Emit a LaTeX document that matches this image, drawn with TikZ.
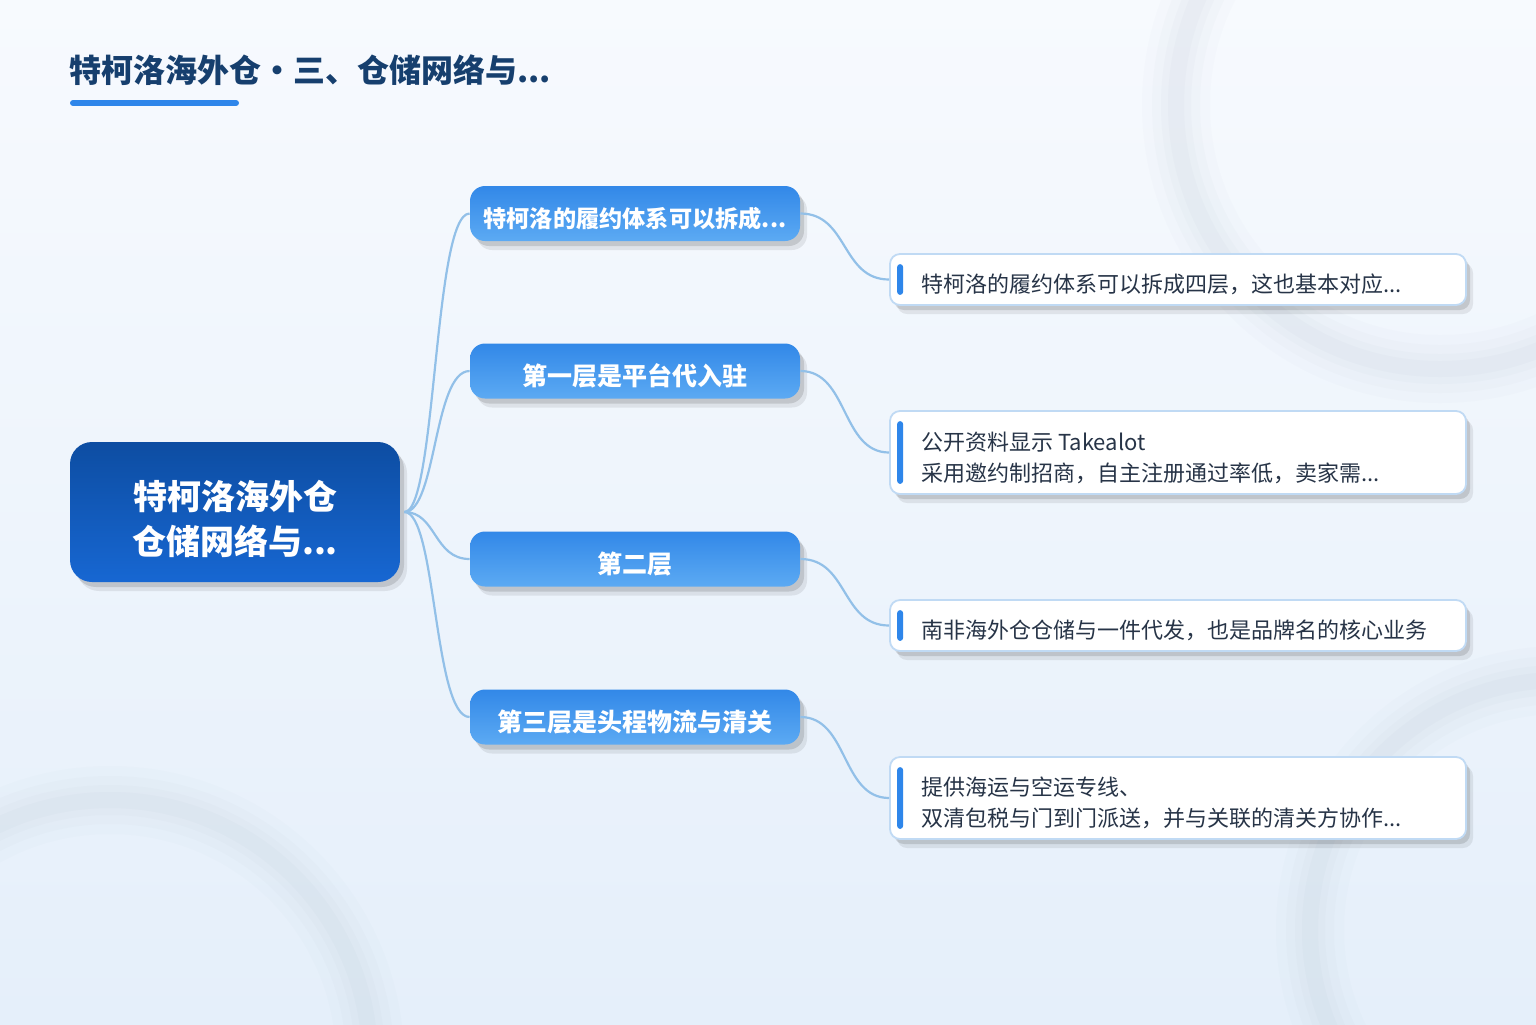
\documentclass[tikz,border=0pt]{standalone}
\usepackage{fontspec}
\setmainfont{Noto Sans CJK SC}
\usetikzlibrary{shadows,calc}
\definecolor{bgTop}{HTML}{F7FAFE}
\definecolor{bgBot}{HTML}{E5EFFA}
\definecolor{ringC}{HTML}{8F9DB0}
\definecolor{titleC}{HTML}{163F6E}
\definecolor{titleBar}{HTML}{2E86EA}
\definecolor{rootTop}{HTML}{0D4DA2}
\definecolor{rootBot}{HTML}{1767D2}
\definecolor{brTop}{HTML}{3288E8}
\definecolor{brBot}{HTML}{5CAAF3}
\definecolor{connC}{HTML}{92C0E8}
\definecolor{leafBorder}{HTML}{C0DAF4}
\definecolor{leafText}{HTML}{273447}
\definecolor{barC}{HTML}{2E86EA}
\newcommand{\lowered}[1]{\raisebox{-2.6pt}[\height][\depth]{#1}}
\tikzset{
  softshadow/.style={
    drop shadow={shadow xshift=3.5pt, shadow yshift=-4.5pt, opacity=0.08, fill=black},
    drop shadow={shadow xshift=2pt, shadow yshift=-2.5pt, opacity=0.12, fill=black}},
  rootbox/.style={rounded corners=11pt, minimum width=165pt, minimum height=70pt,
    top color=rootTop, bottom color=rootBot, draw=none, inner sep=0pt, softshadow},
  roottext/.style={text=white, align=center, inner sep=0pt,
    font=\bfseries\fontsize{17}{22.5}\selectfont},
  branch/.style={rounded corners=7.5pt, minimum width=165pt, minimum height=27.5pt,
    top color=brTop, bottom color=brBot, draw=none, inner sep=0pt, text=white,
    font=\bfseries\fontsize{12.5}{15}\selectfont, softshadow},
  leaf/.style={rounded corners=5pt, minimum width=288pt, fill=white, draw=leafBorder,
    line width=0.9pt, inner sep=0pt, softshadow},
  leaftext/.style={anchor=west, align=left, inner sep=0pt, text=leafText,
    font=\fontsize{11}{15.5}\selectfont},
  conn/.style={draw=connC, line width=1.1pt},
  ring/.style={draw=ringC, line cap=round}
}
\begin{document}
\begin{tikzpicture}[x=0.5pt,y=-0.5pt]
\useasboundingbox (0,0) rectangle (1536,1024);
\shade[top color=bgTop, bottom color=bgBot] (0,0) rectangle (1536,1024);
% soft decorative rings
\begin{scope}
\clip (0,0) rectangle (1536,1024);
\foreach \w/\o in {34/0.025,24/0.03,15/0.035,8/0.04} {
  \draw[ring, line width=\w pt, draw opacity=\o] (1440,105) circle[radius=132pt];
  \draw[ring, line width=\w pt, draw opacity=\o] (110,1060) circle[radius=130pt];
  \draw[ring, line width=\w pt, draw opacity=\o] (1560,930) circle[radius=125pt];
}
\end{scope}
% title
\node[anchor=west, inner sep=0pt, text=titleC, font=\bfseries\fontsize{16}{19}\selectfont] (title) at (69,70) {特柯洛海外仓・三、仓储网络与...};
\draw[titleBar, line width=3pt, line cap=round] (73,103) -- (236,103);
% root
\node[rootbox] (root) at (235,512) {};
\node[roottext] (roott) at (235,519) {特柯洛海外仓\\仓储网络与...};
% branches
\node[branch, font=\bfseries\fontsize{11.6}{14}\selectfont] (b1) at (635,213.5) {\lowered{特柯洛的履约体系可以拆成...}};
\node[branch] (b2) at (635,371) {\lowered{第一层是平台代入驻}};
\node[branch] (b3) at (635,559) {\lowered{第二层}};
\node[branch] (b4) at (635,717) {\lowered{第三层是头程物流与清关}};
% leaves
\node[leaf, minimum height=25.5pt] (l1) at (1178,279.5) {};
\node[leaf, minimum height=41.5pt] (l2) at (1178,452.5) {};
\node[leaf, minimum height=25.5pt] (l3) at (1178,625.5) {};
\node[leaf, minimum height=41pt] (l4) at (1178,798) {};
\foreach \l in {l1,l2,l3,l4} {
  \fill[barC, rounded corners=1.5pt] ($(\l.north west)+(8,11)$) rectangle ($(\l.south west)+(14,-11)$);
}
\node[leaftext] (t1) at ($(l1.west)+(32,5)$) {特柯洛的履约体系可以拆成四层，这也基本对应...};
\node[leaftext] (t2) at ($(l2.west)+(32,5)$) {公开资料显示 Takealot\\采用邀约制招商，自主注册通过率低，卖家需...};
\node[leaftext] (t3) at ($(l3.west)+(32,5)$) {南非海外仓仓储与一件代发，也是品牌名的核心业务};
\node[leaftext] (t4) at ($(l4.west)+(32,5)$) {提供海运与空运专线、\\双清包税与门到门派送，并与关联的清关方协作...};
% connectors root -> branches
\foreach \b in {b1,b2,b3,b4} {
  \draw[conn] ($(root.east)+(4,0)$) .. controls ($(root.east)+(36,0)$) and ($(\b.west)+(-36,0)$) .. (\b.west);
}
% connectors branch -> leaf
\foreach \b/\l in {b1/l1,b2/l2,b3/l3,b4/l4} {
  \draw[conn] (\b.east) .. controls ($(\b.east)+(48,0)$) and ($(\l.west)+(-48,0)$) .. (\l.west);
}
\end{tikzpicture}
\end{document}
